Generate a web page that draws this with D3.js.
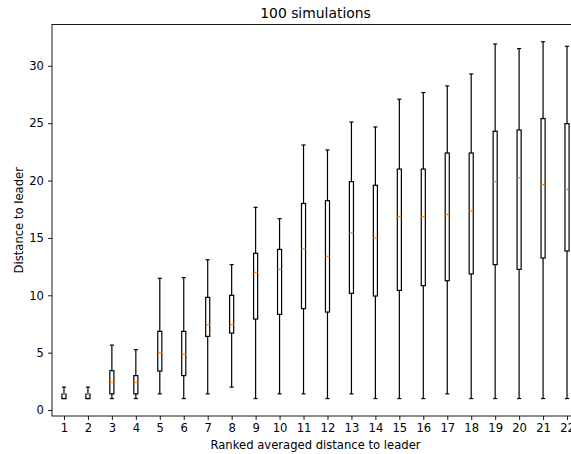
<!DOCTYPE html>
<html>
<head>
<meta charset="utf-8">
<script src="https://cdn.jsdelivr.net/npm/d3@7"></script>
<style>
  html, body { margin: 0; padding: 0; background: #fff; }
  svg { display: block; font-family: "DejaVu Sans", sans-serif; }
</style>
</head>
<body>
<svg id="chart" width="571" height="454"></svg>
<script>
// Rank positions of the boxes
const ranks = [1,2,3,4,5,6,7,8,9,10,11,12,13,14,15,16,17,18,19,20,21,22];
// Box statistics per rank (whisker low, Q1, median, Q3, whisker high)
const whiskerLow = [1.0,1.0,1.0,1.0,1.41,1.0,1.41,2.0,1.0,1.41,1.41,1.0,1.41,1.0,1.0,1.0,1.41,1.0,1.0,1.0,1.0,1.0];
const q1 =         [1.0,1.0,1.41,1.41,3.4,3.0,6.42,6.71,7.93,8.34,8.83,8.54,10.17,9.94,10.43,10.84,11.27,11.86,12.67,12.26,13.25,13.86];
const medians =    [1.41,1.41,2.41,2.41,5.0,4.85,7.44,7.44,12.0,12.26,14.05,13.4,15.43,15.0,16.86,16.86,17.03,17.35,19.9,20.25,19.65,19.24];
const q3 =         [1.41,1.41,3.43,3.0,6.86,6.86,9.82,10.0,13.66,14.0,18.0,18.25,19.9,19.59,21.0,21.0,22.4,22.4,24.3,24.41,25.4,24.96];
const whiskerHigh =[2.0,2.0,5.66,5.26,11.48,11.54,13.1,12.67,17.67,16.68,23.1,22.67,25.1,24.67,27.09,27.67,28.25,29.29,31.9,31.5,32.1,31.7];
const yTicks = [0,5,10,15,20,25,30];

(function () {
  const svg = d3.select("#chart");
  const mLeft = 52, mRight = 579, mTop = 24.5, mBottom = 416;
  const lw = 1.2;

  const x = d3.scaleLinear().domain([0.5, 22.5]).range([mLeft, mRight]);
  const y = d3.scaleLinear().domain([-0.52, 33.6]).range([mBottom, mTop]);

  const boxW = 0.17, capW = 0.085;

  const rows = ranks.map((r, i) => ({
    r, lo: whiskerLow[i], q1: q1[i], med: medians[i], q3: q3[i], hi: whiskerHigh[i]
  }));

  const g = svg.append("g");

  // whiskers
  g.selectAll("line.wlo").data(rows).join("line").attr("class", "wlo")
    .attr("x1", d => x(d.r)).attr("x2", d => x(d.r))
    .attr("y1", d => y(d.q1)).attr("y2", d => y(d.lo))
    .attr("stroke", "#000").attr("stroke-width", lw);
  g.selectAll("line.whi").data(rows).join("line").attr("class", "whi")
    .attr("x1", d => x(d.r)).attr("x2", d => x(d.r))
    .attr("y1", d => y(d.q3)).attr("y2", d => y(d.hi))
    .attr("stroke", "#000").attr("stroke-width", lw);
  // caps
  g.selectAll("line.clo").data(rows).join("line").attr("class", "clo")
    .attr("x1", d => x(d.r - capW)).attr("x2", d => x(d.r + capW))
    .attr("y1", d => y(d.lo)).attr("y2", d => y(d.lo))
    .attr("stroke", "#000").attr("stroke-width", lw);
  g.selectAll("line.chi").data(rows).join("line").attr("class", "chi")
    .attr("x1", d => x(d.r - capW)).attr("x2", d => x(d.r + capW))
    .attr("y1", d => y(d.hi)).attr("y2", d => y(d.hi))
    .attr("stroke", "#000").attr("stroke-width", lw);
  // boxes
  g.selectAll("rect.box").data(rows).join("rect").attr("class", "box")
    .attr("x", d => x(d.r - boxW / 2)).attr("width", x(boxW) - x(0))
    .attr("y", d => y(d.q3)).attr("height", d => Math.max(0.5, y(d.q1) - y(d.q3)))
    .attr("fill", "none").attr("stroke", "#000").attr("stroke-width", lw);
  // medians
  g.selectAll("line.med").data(rows).join("line").attr("class", "med")
    .attr("x1", d => x(d.r - boxW / 2)).attr("x2", d => x(d.r + boxW / 2))
    .attr("y1", d => y(d.med)).attr("y2", d => y(d.med))
    .attr("stroke", "#ff7f0e").attr("stroke-width", lw);

  // axes
  const xAxis = d3.axisBottom(x).tickValues(ranks).tickSize(4).tickPadding(4).tickFormat(d3.format("d"));
  const yAxis = d3.axisLeft(y).tickValues(yTicks).tickSize(4).tickPadding(4);

  const gx = svg.append("g").attr("transform", `translate(0,${mBottom})`).call(xAxis);
  const gy = svg.append("g").attr("transform", `translate(${mLeft},0)`).call(yAxis);
  [gx, gy].forEach(a => {
    a.select(".domain").remove();
    a.selectAll("line").attr("stroke", "#000").attr("stroke-width", 0.9);
    a.selectAll("text").attr("fill", "#000").style("font-size", "11.6px").style("font-family", "DejaVu Sans");
  });

  // spines
  svg.append("rect").attr("x", mLeft).attr("y", mTop)
    .attr("width", mRight - mLeft).attr("height", mBottom - mTop)
    .attr("fill", "none").attr("stroke", "#000").attr("stroke-width", 0.9);

  // titles
  svg.append("text").attr("x", (mLeft + mRight) / 2).attr("y", 17.5)
    .attr("text-anchor", "middle").style("font-size", "13.9px").text("100 simulations");
  svg.append("text").attr("x", (mLeft + mRight) / 2).attr("y", 449)
    .attr("text-anchor", "middle").style("font-size", "11.6px").text("Ranked averaged distance to leader");
  svg.append("text").attr("transform", `translate(23,${(mTop + mBottom) / 2}) rotate(-90)`)
    .attr("text-anchor", "middle").style("font-size", "11.6px").text("Distance to leader");
})();
</script>
</body>
</html>
